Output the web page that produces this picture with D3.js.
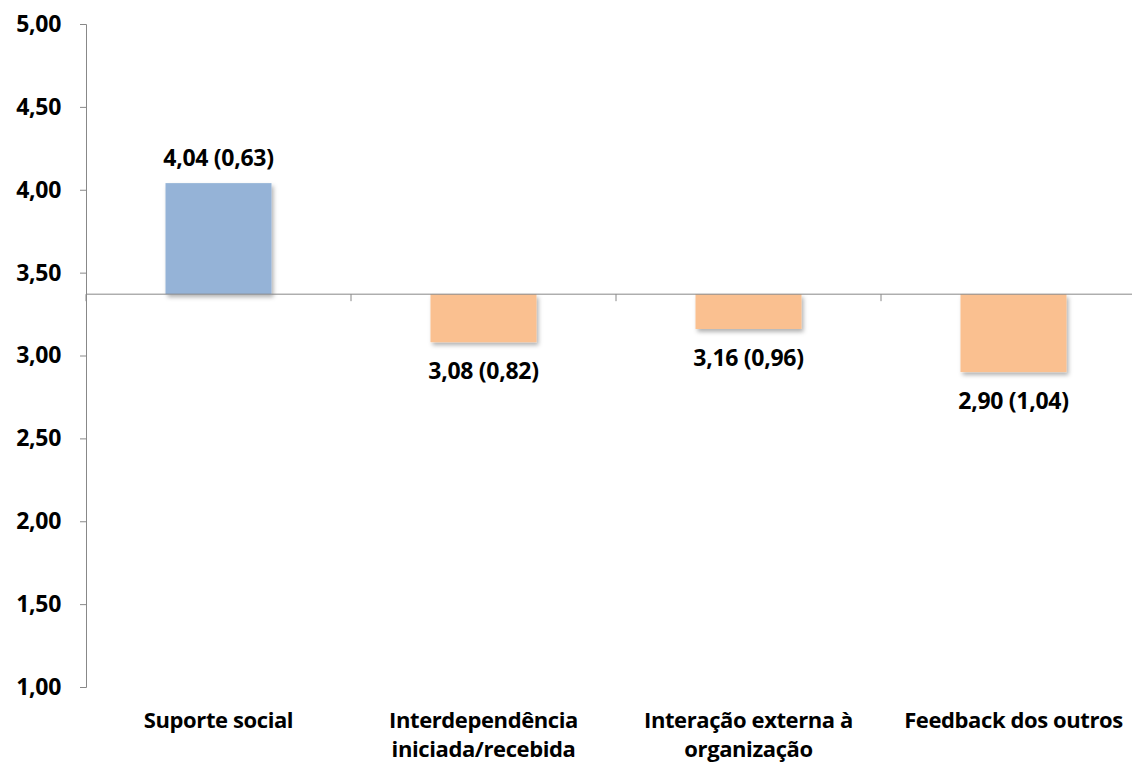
<!DOCTYPE html>
<html>
<head>
<meta charset="utf-8">
<script src="https://cdn.jsdelivr.net/npm/d3@7"></script>
<style>
  body { margin: 0; background: #fff; }
  svg { display: block; }
  text { font-family: "Open Sans", "Noto Sans", sans-serif; font-weight: bold; fill: #000; }
</style>
</head>
<body>
<svg id="chart"></svg>
<script>
// chart data
const categories = [
    ['Suporte social'],
    ['Interdependência', 'iniciada/recebida'],
    ['Interação externa à', 'organização'],
    ['Feedback dos outros']
];
const means = [4.04, 3.08, 3.16, 2.90];
const sds = [0.63, 0.82, 0.96, 1.04];
const baseline = 3.37; // horizontal axis crosses here
const yTicks = [1.0, 1.5, 2.0, 2.5, 3.0, 3.5, 4.0, 4.5, 5.0];

const width = 1132, height = 767;
const margin = { top: 24, right: -14, bottom: 80, left: 86 };

const svg = d3.select('#chart')
    .attr('width', width)
    .attr('height', height);

const fmt = v => v.toFixed(2).replace('.', ',');

const x = d3.scaleBand()
    .domain(d3.range(means.length))
    .range([margin.left, width - margin.right])
    .paddingInner(0.6)
    .paddingOuter(0.3);

const y = d3.scaleLinear()
    .domain([1, 5])
    .range([height - margin.bottom, margin.top]);

// drop shadow for the bars
const defs = svg.append('defs');
const shadow = defs.append('filter').attr('id', 'shadow')
    .attr('x', '-10%').attr('y', '-10%').attr('width', '130%').attr('height', '140%');
shadow.append('feDropShadow')
    .attr('dx', 2).attr('dy', 3).attr('stdDeviation', 2)
    .attr('flood-color', '#000').attr('flood-opacity', 0.3);

// y axis
const yAxis = svg.append('g')
    .attr('transform', `translate(${margin.left},0)`)
    .call(d3.axisLeft(y).tickValues(yTicks).tickFormat(fmt).tickSize(6).tickPadding(19));
yAxis.select('.domain').attr('stroke', '#888');
yAxis.selectAll('.tick line').attr('stroke', '#888');
yAxis.selectAll('.tick text')
    .style('font-size', '23px')
    .style('font-family', '"Open Sans", sans-serif')
    .style('font-weight', 'bold')
    .style('letter-spacing', '-0.3px')
    .attr('fill', '#000');

// bars
svg.append('g').selectAll('rect')
    .data(means)
    .enter()
    .append('rect')
    .attr('x', (d, i) => x(i))
    .attr('width', x.bandwidth())
    .attr('y', d => y(Math.max(d, baseline)))
    .attr('height', d => Math.abs(y(d) - y(baseline)))
    .attr('fill', d => d >= baseline ? '#95B3D7' : '#FAC090')
    .attr('filter', 'url(#shadow)');

// category axis at the baseline
const step = x.step();
const catTicks = d3.range(means.length + 1).map(i => x(0) - x.paddingInner() * step / 2 + i * step);
const base = svg.append('g');
base.append('line')
    .attr('x1', margin.left).attr('x2', width)
    .attr('y1', y(baseline)).attr('y2', y(baseline))
    .attr('stroke', '#888');
base.selectAll('line.tick')
    .data(catTicks)
    .enter()
    .append('line')
    .attr('class', 'tick')
    .attr('x1', d => d).attr('x2', d => d)
    .attr('y1', y(baseline)).attr('y2', y(baseline) + 7)
    .attr('stroke', '#888');

// value labels
svg.append('g').selectAll('text')
    .data(means)
    .enter()
    .append('text')
    .attr('x', (d, i) => x(i) + x.bandwidth() / 2)
    .attr('y', d => d >= baseline ? y(d) - 17 : y(d) + 37)
    .attr('text-anchor', 'middle')
    .style('font-size', '23px')
    .style('letter-spacing', '-0.3px')
    .text((d, i) => `${fmt(d)} (${fmt(sds[i])})`);

// category labels
const catLabels = svg.append('g').selectAll('text')
    .data(categories)
    .enter()
    .append('text')
    .attr('x', (d, i) => x(i) + x.bandwidth() / 2)
    .attr('y', 728)
    .attr('text-anchor', 'middle')
    .style('font-size', '22px')
    .style('letter-spacing', '-0.4px');
catLabels.selectAll('tspan')
    .data(d => d)
    .enter()
    .append('tspan')
    .attr('x', function () { return this.parentNode.getAttribute('x'); })
    .attr('dy', (d, i) => i === 0 ? 0 : 29)
    .text(d => d);
</script>
</body>
</html>
